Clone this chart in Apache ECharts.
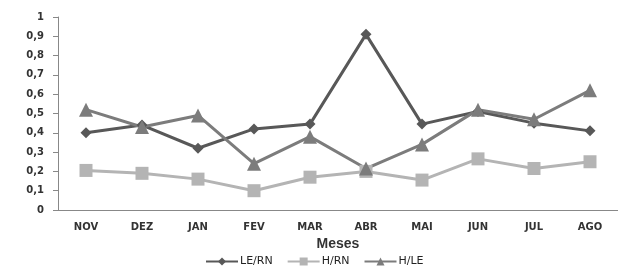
<!DOCTYPE html>
<html>
<head>
<meta charset="utf-8">
<script src="https://cdn.jsdelivr.net/npm/echarts@6/dist/echarts.min.js"></script>
<style>
  html, body { margin: 0; padding: 0; background: #fff; }
  #chart { width: 618px; height: 270px; }
</style>
</head>
<body>
<div id="chart"></div>
<script>
// data
var months = ['NOV', 'DEZ', 'JAN', 'FEV', 'MAR', 'ABR', 'MAI', 'JUN', 'JUL', 'AGO']
var leRn = [0.40, 0.44, 0.32, 0.42, 0.445, 0.91, 0.445, 0.51, 0.45, 0.41]
var hRn = [0.205, 0.19, 0.16, 0.10, 0.17, 0.20, 0.155, 0.265, 0.215, 0.25]
var hLe = [0.52, 0.43, 0.49, 0.24, 0.38, 0.215, 0.34, 0.52, 0.47, 0.62]

var chart = echarts.init(document.getElementById('chart'), null, { renderer: 'canvas' })

var labelFont = { fontFamily: 'Verdana, "DejaVu Sans", sans-serif', fontSize: 10, fontWeight: 'bold', color: '#333' }

function line(name, data, color, symbol, size) {
  return {
    name: name,
    type: 'line',
    data: data,
    symbol: symbol,
    symbolSize: size,
    animation: false,
    lineStyle: { color: color, width: 3 },
    itemStyle: { color: color }
  }
}

chart.setOption({
  grid: { left: 58, top: 17, width: 566, height: 193 },
  legend: {
    bottom: -2,
    left: 200,
    itemWidth: 32,
    itemHeight: 10,
    itemGap: 14,
    textStyle: { fontFamily: 'Verdana, "DejaVu Sans", sans-serif', fontSize: 11, color: '#222', padding: [0, 0, 0, -3] },
    data: ['LE/RN', 'H/RN', 'H/LE']
  },
  xAxis: {
    type: 'category',
    data: months,
    name: 'Meses',
    nameLocation: 'middle',
    nameGap: 26,
    nameTextStyle: { fontFamily: 'Arial, "Liberation Sans", sans-serif', fontSize: 14, fontWeight: 'bold', color: '#333' },
    axisLine: { lineStyle: { color: '#888' } },
    axisTick: { alignWithLabel: false, length: 5, lineStyle: { color: '#888' } },
    axisLabel: Object.assign({ margin: 12 }, labelFont)
  },
  yAxis: {
    type: 'value',
    min: 0,
    max: 1,
    interval: 0.1,
    splitLine: { show: false },
    axisLine: { show: true, lineStyle: { color: '#888' } },
    axisTick: { show: true, length: 5, lineStyle: { color: '#888' } },
    axisLabel: Object.assign({
      margin: 14,
      formatter: function (v) { return String(Math.round(v * 10) / 10).replace('.', ',') }
    }, labelFont)
  },
  series: [
    line('LE/RN', leRn, '#585858', 'diamond', 11),
    line('H/RN', hRn, '#b4b4b4', 'rect', 13),
    line('H/LE', hLe, '#7c7c7c', 'triangle', 14)
  ]
})
</script>
</body>
</html>
